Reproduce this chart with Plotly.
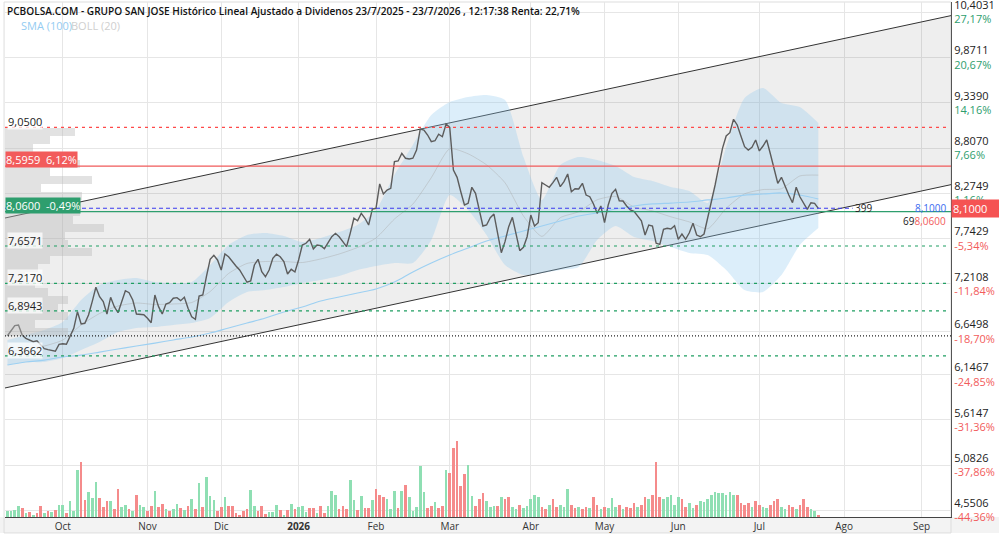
import plotly.graph_objects as go

# ---------------- DATA ----------------
# x is the trading-day index (0 = 1 Oct 2025)
first_idx = -15
close = [
    6.603, 6.670, 6.721, 6.729, 6.611, 6.572, 6.553, 6.533, 6.544, 6.494, 6.450, 6.439, 6.427, 6.420, 6.502,
    6.509, 6.502, 6.591, 6.690, 6.885, 6.741, 6.749, 6.846, 7.003, 7.172,
    7.061, 7.003, 6.858, 7.054, 6.944, 6.873, 7.003, 7.132, 7.108, 7.023,
    6.858, 6.855, 6.850, 6.808, 6.756, 7.081, 6.944, 6.858, 6.976, 6.991,
    7.043, 7.050, 7.015, 7.054, 6.925, 6.826, 6.796, 7.070, 7.081, 7.300,
    7.500, 7.548, 7.493, 7.375, 7.563, 7.531, 7.473, 7.422, 7.375, 7.305,
    7.231, 7.246, 7.434, 7.501, 7.355, 7.296, 7.375, 7.513, 7.560, 7.531,
    7.473, 7.328, 7.383, 7.352, 7.493, 7.669, 7.689, 7.736, 7.622, 7.669,
    7.661, 7.625, 7.696, 7.766, 7.806, 7.766, 7.708, 7.649, 7.806, 7.983,
    7.954, 8.041, 7.983, 7.904, 8.092, 8.100, 8.386, 8.268, 8.315, 8.335,
    8.648, 8.656, 8.746, 8.688, 8.679, 8.688, 8.785, 9.030, 9.020, 8.961,
    8.883, 8.894, 8.970, 8.941, 9.090, 9.050, 8.550, 8.464, 8.295, 8.139,
    8.159, 8.347, 8.276, 8.100, 7.892, 7.904, 7.990, 8.033, 7.825, 7.578,
    7.708, 7.884, 7.994, 7.806, 7.602, 7.642, 7.766, 8.021, 7.892, 7.931,
    8.401, 8.374, 8.347, 8.401, 8.464, 8.354, 8.413, 8.503, 8.295, 8.330,
    8.327, 8.394, 8.256, 8.236, 8.151, 8.041, 8.127, 7.931, 8.139, 8.276,
    8.323, 8.189, 8.186, 8.127, 8.080, 8.065, 8.010, 7.954, 7.786, 7.904,
    7.892, 7.689, 7.677, 7.853, 7.865, 7.857, 7.896, 7.736, 7.798, 7.736,
    7.813, 7.924, 7.786, 7.766, 7.798, 7.983, 8.178, 8.374, 8.589, 8.805,
    8.950, 8.988, 9.146, 9.079, 8.950, 8.824, 8.785, 8.817, 8.903, 8.774,
    8.832, 8.903, 8.738, 8.570, 8.394, 8.464, 8.354, 8.256, 8.166, 8.347,
    8.236, 8.166, 8.088, 8.166, 8.159, 8.100,
]
# volume (thousand shares) and bar colour (g = up day, r = down day)
volume = [
    25, 25, 29, 45, 36, 16, 20, 9, 16, 43, 16, 25, 20, 29, 49, 49, 16, 65, 25, 187,
    219, 69, 100, 75, 140, 75, 39, 65, 65, 32, 112, 40, 49, 32, 25, 89, 49, 39, 25, 43,
    105, 39, 53, 32, 23, 32, 53, 36, 29, 43, 72, 33, 137, 39, 160, 83, 67, 25, 39, 79,
    43, 43, 16, 9, 25, 33, 109, 45, 25, 43, 13, 20, 20, 49, 29, 8, 29, 53, 33, 40,
    45, 20, 36, 36, 16, 45, 16, 43, 105, 89, 32, 45, 32, 147, 69, 29, 83, 36, 36, 69,
    112, 89, 79, 72, 33, 105, 36, 105, 129, 79, 25, 39, 205, 100, 36, 45, 60, 36, 45, 189,
    176, 276, 303, 123, 172, 209, 83, 43, 72, 96, 63, 40, 43, 45,
    80, 72, 80, 40, 32, 48, 36, 44, 72, 88, 80, 40, 32, 48, 72, 40, 48, 40, 112, 48,
    36, 40, 32, 40, 36, 80, 48, 32, 40, 36, 76, 40, 48, 32, 40, 36, 56, 40, 48, 80,
    72, 88, 220, 80, 72, 80, 88, 48, 80, 72, 40, 56, 36, 48, 64, 60, 72, 88, 100, 96,
    96, 88, 100, 88, 88, 56, 48, 56, 40, 64, 48, 40, 36, 48, 64, 72, 40, 32, 48, 40,
    32, 48, 72, 40, 32, 24, 8,
]
vol_dir = ("ggggrgrgrr" "grgrggrggg" "rrgggrrrgr" "rggrgrggrr" "grrgrggrgr"
           "grgrgggrrg" "rrrrrrggrr" "rgggrgrgrg" "ggrrgrrggg" "rrrggrgrrg"
           "rrrgggrgrg" "ggggrrgrrg" "rrrrrggrrr" "gggr"
           "grrggrgggg" "grrgrrgggr" "rgrrgrrgrg" "ggrgrrrgrr" "grrrgggggr"
           "rggrgggggg" "ggggrrrrgr" "rggrrrggrr" "grrrggr")

band_idx = list(range(-15, 206, 5))
boll_up = [6.553, 6.611, 6.670, 6.764, 7.023, 7.199, 7.258, 7.281, 7.234, 7.222, 7.234, 7.434, 7.669,
           7.786, 7.810, 7.775, 7.704, 7.751, 7.821, 7.904, 8.080, 8.491, 8.844, 9.196, 9.349, 9.408,
           9.431, 9.373, 8.703, 8.198, 8.609, 8.703, 8.668, 8.597, 8.468, 8.421, 8.350, 8.303, 8.162,
           8.820, 9.396, 9.514, 9.337, 9.290, 9.102]
boll_lo = [6.259, 6.294, 6.294, 6.341, 6.435, 6.529, 6.646, 6.693, 6.705, 6.729, 6.752, 6.811, 6.999,
           7.117, 7.140, 7.175, 7.222, 7.258, 7.305, 7.375, 7.422, 7.457, 7.457, 7.728, 8.256, 8.080,
           7.786, 7.434, 7.316, 7.340, 7.375, 7.410, 7.728, 7.892, 7.763, 7.716, 7.645, 7.575, 7.550,
           7.375, 7.140, 7.117, 7.316, 7.669, 7.868]
boll_mid = [6.406, 6.452, 6.482, 6.552, 6.729, 6.864, 6.952, 6.987, 6.970, 6.976, 6.993, 7.122, 7.334,
            7.452, 7.475, 7.475, 7.463, 7.505, 7.563, 7.640, 7.751, 7.974, 8.150, 8.460, 8.800, 8.740,
            8.610, 8.400, 8.010, 7.770, 7.990, 8.060, 8.200, 8.240, 8.115, 8.070, 8.000, 7.940, 7.860,
            8.100, 8.270, 8.320, 8.330, 8.480, 8.490]
sma100 = [6.259, 6.294, 6.317, 6.353, 6.376, 6.411, 6.447, 6.482, 6.517, 6.553, 6.588, 6.635, 6.694,
          6.752, 6.811, 6.882, 6.940, 7.011, 7.058, 7.105, 7.152, 7.234, 7.352, 7.457, 7.551, 7.633,
          7.716, 7.775, 7.833, 7.892, 7.951, 8.010, 8.045, 8.092, 8.127, 8.151, 8.162, 8.174, 8.198,
          8.221, 8.256, 8.268, 8.280, 8.256, 8.209]

# trend channel end points
chan_x = [-15.66, 241.0]
chan_up = [7.986, 10.364]
chan_lo = [5.989, 8.378]

# volume-by-price profile
prof_price = [8.997, 8.903, 8.809, 8.714, 8.621, 8.527, 8.432, 8.339, 8.245, 8.151, 8.057, 7.962, 7.868,
              7.775, 7.681, 7.586, 7.493, 7.398, 7.305, 7.210, 7.117, 7.023, 6.929, 6.834, 6.740, 6.646]
prof_vol = [70, 45, 28, 32, 75, 45, 87, 36, 77, 49, 75, 68, 99, 60, 63, 87, 45, 33, 20, 30, 43, 63, 53,
            63, 30, 63]

month_idx = [0, 23, 43, 64, 85, 105, 127, 147, 167, 189, 212, 233]
month_lbl = ['Oct', 'Nov', 'Dic', '<b>2026</b>', 'Feb', 'Mar', 'Abr', 'May', 'Jun', 'Jul', 'Ago', 'Sep']

ytick_vals = [10.4031, 9.8711, 9.3390, 8.8070, 8.2749, 7.7429, 7.2108, 6.6498, 6.1467, 5.6147, 5.0826, 4.5506]
ytick_txt = ['10,4031', '9,8711', '9,3390', '8,8070', '8,2749', '7,7429', '7,2108', '6,6498', '6,1467',
             '5,6147', '5,0826', '4,5506']
ytick_pct = ['27,17%', '20,67%', '14,16%', '7,66%', '1,16%', '-5,34%', '-11,84%', '-18,70%', '-24,85%',
             '-31,36%', '-37,86%', '-44,36%']

last_price = 8.10
level_max = 9.05
level_red = 8.5959
level_green = 8.06
levels_dash = [7.6571, 7.2170, 6.8943, 6.3662]
level_dot = 6.60

title = ("PCBOLSA.COM - GRUPO SAN JOSE Histórico Lineal Ajustado a Dividenos "
         "23/7/2025 - 23/7/2026 , 12:17:38 Renta: 22,71%")

# ---------------- FIGURE ----------------
x_close = list(range(first_idx, first_idx + len(close)))
x_vol = list(range(first_idx, first_idx + len(volume)))
GREEN = '#2e9e6e'
RED = '#f25b5b'

fig = go.Figure()

# channel
fig.add_trace(go.Scatter(x=chan_x, y=chan_lo, mode='lines', line=dict(color='#333', width=1),
                         hoverinfo='skip'))
fig.add_trace(go.Scatter(x=chan_x, y=chan_up, mode='lines', line=dict(color='#333', width=1),
                         fill='tonexty', fillcolor='rgba(0,0,0,0.065)', hoverinfo='skip'))

# volume profile
fig.add_trace(go.Bar(x=prof_vol, y=prof_price, orientation='h', xaxis='x2', yaxis='y',
                     width=0.088, marker=dict(color='rgba(185,185,185,0.42)', line=dict(width=0))))

# Bollinger band
fig.add_trace(go.Scatter(x=band_idx, y=boll_lo, mode='lines', line=dict(width=0, shape='spline', smoothing=0.6),
                         hoverinfo='skip'))
fig.add_trace(go.Scatter(x=band_idx, y=boll_up, mode='lines', line=dict(width=0, shape='spline', smoothing=0.6),
                         fill='tonexty', fillcolor='rgba(140,200,240,0.30)', hoverinfo='skip'))
fig.add_trace(go.Scatter(x=band_idx, y=boll_mid, mode='lines',
                         line=dict(color='rgba(170,170,170,0.45)', width=1, shape='spline', smoothing=0.6)))
fig.add_trace(go.Scatter(x=band_idx, y=sma100, mode='lines',
                         line=dict(color='#9dd0f2', width=1.2, shape='spline')))

# volume
fig.add_trace(go.Bar(x=x_vol, y=volume, yaxis='y2', width=0.72,
                     marker=dict(color=['#8fdfb3' if c == 'g' else '#f58b8b' for c in vol_dir],
                                 line=dict(width=0))))

# price
fig.add_trace(go.Scatter(x=x_close, y=close, mode='lines', line=dict(color='#5c5c5c', width=1.4)))

shapes = []
def hline(y, color, dash, x1=1.0, width=1):
    shapes.append(dict(type='line', xref='paper', yref='y', x0=0, x1=x1, y0=y, y1=y,
                       line=dict(color=color, width=width, dash=dash)))

hline(level_max, '#ff4a4a', '3px,4px', 0.995, 1.2)
hline(level_red, '#f05a5a', 'solid', 1.0, 1.2)
hline(last_price, '#3b3bf0', '4px,3px', 0.896, 1.1)
hline(level_green, GREEN, 'solid', 1.0, 1.3)
for lv in levels_dash:
    hline(lv, '#1f9e62', '3px,4px', 0.995, 1.2)
hline(level_dot, '#222', '1px,2px', 1.0, 1.2)

# x-axis label band and frame
shapes.append(dict(type='rect', xref='paper', yref='paper', x0=-0.006, x1=1.052, y0=-0.031, y1=0,
                   fillcolor='#f3f3f3', line=dict(width=0), layer='below'))
shapes.append(dict(type='rect', xref='paper', yref='paper', x0=-0.001, x1=1.0, y0=-0.031, y1=1.0,
                   fillcolor='rgba(0,0,0,0)', line=dict(color='#dddddd', width=1), layer='below'))

ann = []
ann.append(dict(xref='paper', yref='paper', x=0.0, y=0.9825, xanchor='left', yanchor='middle',
                text=title, showarrow=False, font=dict(family='Open Sans', size=10.1, color='#111',
                                                        weight=600)))
ann.append(dict(xref='paper', yref='paper', x=0.015, y=0.955, xanchor='left', yanchor='middle',
                text="SMA (100)", showarrow=False, font=dict(family='Open Sans', size=11, color='#94ccf2')))
ann.append(dict(xref='paper', yref='paper', x=0.068, y=0.955, xanchor='left', yanchor='middle',
                text="BOLL (20)", showarrow=False, font=dict(family='Open Sans', size=11, color='#cfcfcf')))

def fmt(v):
    return f"{v:.4f}".replace('.', ',')

for lv in [level_max] + levels_dash:
    ann.append(dict(xref='paper', yref='y', x=0.002, y=lv, xanchor='left', yanchor='bottom', yshift=-3,
                    text=fmt(lv), showarrow=False, bgcolor='rgba(255,255,255,0.75)', borderpad=0,
                    font=dict(family='Open Sans', size=11, color='#222')))
ann.append(dict(xref='paper', yref='y', x=0.0, y=level_red, xanchor='left', yanchor='bottom', yshift=-2,
                text=fmt(level_red) + "  6,12%", showarrow=False, bgcolor=RED, borderpad=0,
                font=dict(family='Open Sans', size=11, color='white')))
ann.append(dict(xref='paper', yref='y', x=0.0, y=level_green, xanchor='left', yanchor='bottom', yshift=-2,
                text=fmt(level_green) + "  -0,49%", showarrow=False, bgcolor=GREEN, borderpad=0,
                font=dict(family='Open Sans', size=11, color='white')))

ann.append(dict(xref='x', yref='y', x=217.3, y=last_price, xanchor='center', yanchor='middle',
                text="399", showarrow=False, font=dict(family='Open Sans', size=10, color='#222')))
ann.append(dict(xref='paper', yref='y', x=0.997, y=last_price, xanchor='right', yanchor='middle',
                text=fmt(last_price), showarrow=False, font=dict(family='Open Sans', size=10, color='#3b6cf0')))
ann.append(dict(xref='paper', yref='y', x=0.997, y=level_green, xanchor='right', yanchor='middle',
                yshift=-9, text="69<span style='color:#f25b5b'>" + fmt(level_green) + "</span>",
                showarrow=False, font=dict(family='Open Sans', size=10, color='#222')))
ann.append(dict(xref='paper', yref='y', x=1.0, y=last_price, xanchor='left', yanchor='middle',
                text=fmt(last_price), showarrow=False, bgcolor='#f55353', width=46, align='left',
                font=dict(family='Open Sans', size=11, color='white')))

ticktext = [f"{p}<br><span style='color:{GREEN if not q.startswith('-') else RED}'>{q}</span>"
            for p, q in zip(ytick_txt, ytick_pct)]

fig.update_layout(
    width=999, height=538, margin=dict(l=5, r=48, t=2, b=21, autoexpand=False),
    paper_bgcolor='white', plot_bgcolor='white', showlegend=False, bargap=0,
    shapes=shapes, annotations=ann,
    font=dict(family='Open Sans', size=11, color='#222'),
    xaxis=dict(range=[-15.66, 241.0], tickvals=month_idx, ticktext=month_lbl, showgrid=True,
               gridcolor='#e6e6e6', zeroline=False, showline=True, linecolor='#444', ticks='',
               tickfont=dict(size=10, color='#333'), automargin=False),
    xaxis2=dict(range=[0, 946], overlaying='x', visible=False),
    yaxis=dict(range=[4.473, 10.524], side='right', tickvals=ytick_vals, ticktext=ticktext,
               showgrid=True, gridcolor='#e6e6e6', zeroline=False, showline=True, linecolor='#555',
               ticks='', tickfont=dict(size=11, color='#222'), ticklabeloverflow='allow',
               automargin=False),
    yaxis2=dict(range=[0, 2060], overlaying='y', visible=False),
)

fig.write_html("out.html")
